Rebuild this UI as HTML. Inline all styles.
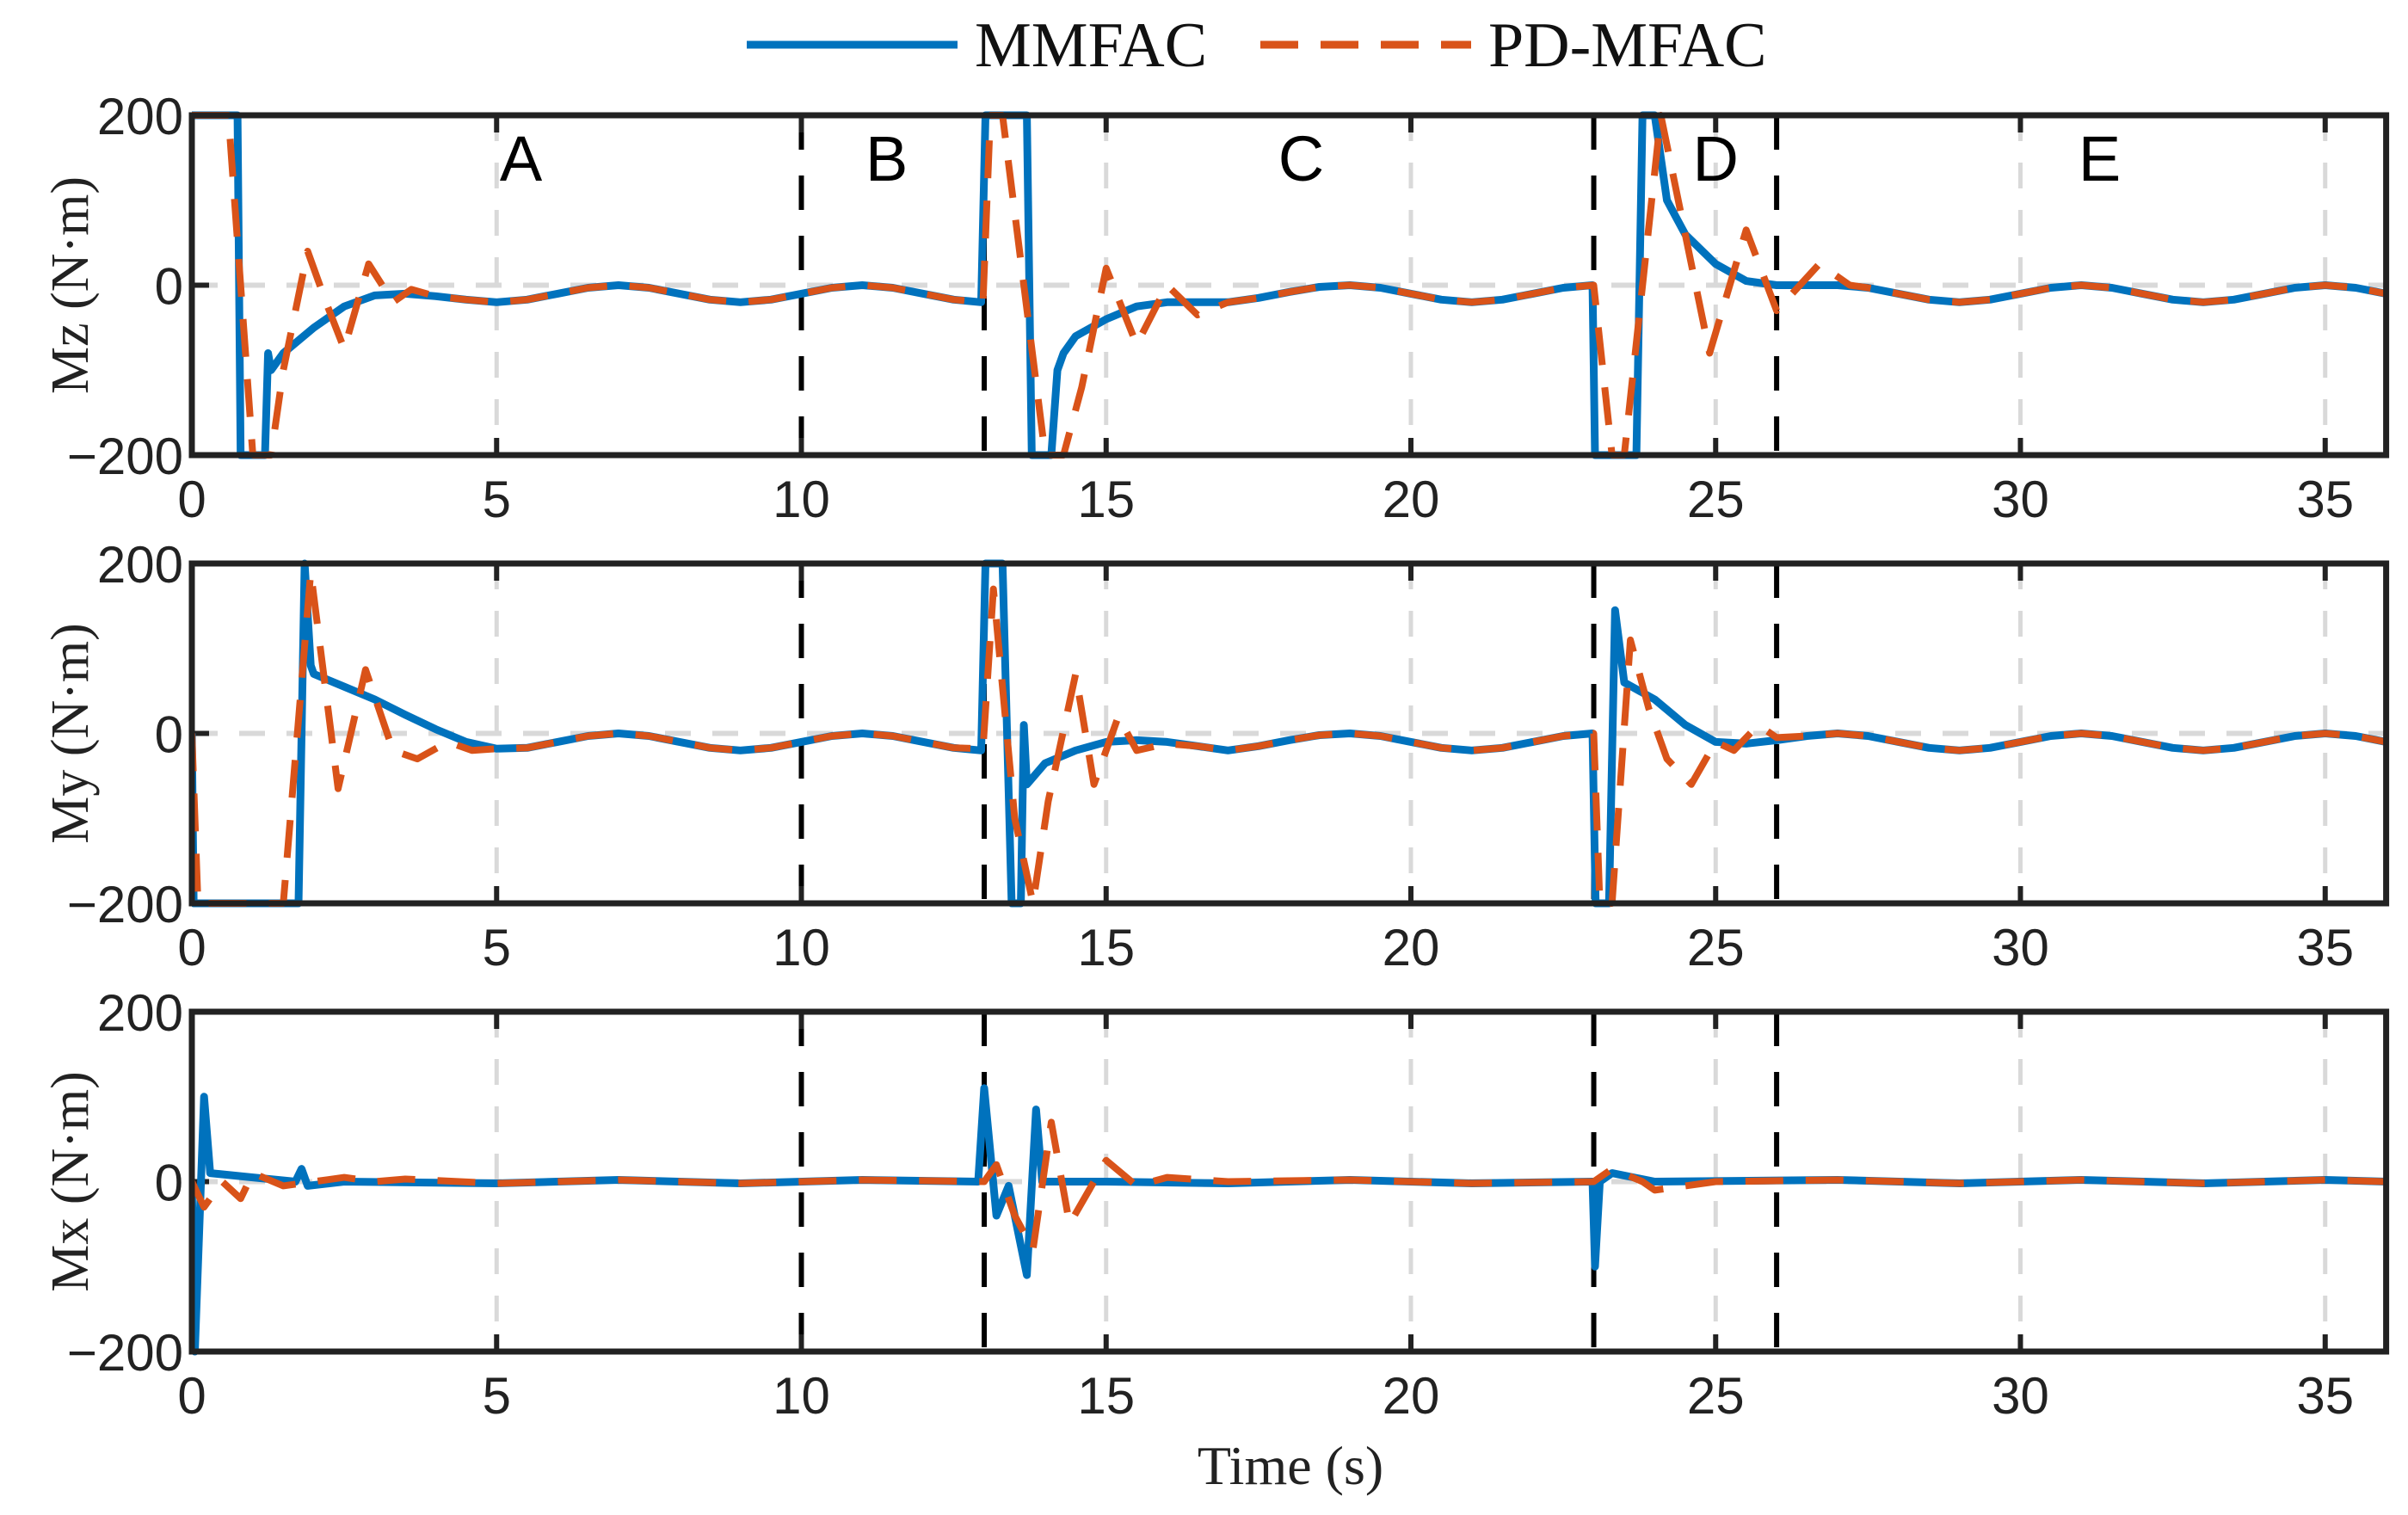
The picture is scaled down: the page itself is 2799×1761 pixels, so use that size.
<!DOCTYPE html>
<html><head><meta charset="utf-8"><style>
html,body{margin:0;padding:0;background:#fff;}
svg{display:block;}
</style></head><body>
<svg id="chart" width="2799" height="1761" xmlns="http://www.w3.org/2000/svg"></svg>
<script>
// ---- data ----
const xTicks = [0,5,10,15,20,25,30,35];
const yTicks = [-200,0,200];
const phaseLines = [10,13,23,26];
const phaseLabels = ['A','B','C','D','E'];
const phaseLabelT = [5.4,11.4,18.2,25.0,31.3];
const panelNames = ['Mz','My','Mx'];

const mzT1 = [0,0.75,0.8,1.2,1.25,1.3,1.5,2,2.5,3,3.5,4,4.5,5,5.5,6,6.5,7,7.5,8,8.5,9,9.5,10,10.5,11,11.5,12,12.5,12.95,13.02,13.7,13.78,14.1,14.2,14.3,14.5,15,15.5,16,16.5,17,17.5,18,18.5,19,19.5,20,20.5,21,21.5,22,22.5,22.98,23.02,23.7,23.8,24.0,24.2,24.5,25,25.5,26,26.5,27,27.5,28,28.5,29,29.5,30,30.5,31,31.5,32,32.5,33,33.5,34,34.5,35,35.5,36];
const mzV1 = [200,200,-200,-200,-80,-100,-80,-50,-25,-12,-10,-13,-17,-20,-17,-10,-3,0,-3,-10,-17,-20,-17,-10,-3,0,-3,-10,-17,-20,200,200,-200,-200,-100,-80,-60,-40,-25,-20,-20,-20,-15,-8,-2,0,-3,-10,-17,-20,-17,-10,-3,0,-200,-200,200,200,100,60,25,5,0,0,0,-3,-10,-17,-20,-17,-10,-3,0,-3,-10,-17,-20,-17,-10,-3,0,-3,-10];
const mzT2 = [0,0.6,1.0,1.3,1.5,1.9,2.2,2.5,2.9,3.3,3.6,4,4.5,5,5.5,6,6.5,7,7.5,8,8.5,9,9.5,10,10.5,11,11.5,12,12.5,12.98,13.1,13.3,14.0,14.3,14.6,15.0,15.5,16.0,16.5,17,17.5,18,18.5,19,19.5,20,20.5,21,21.5,22,22.5,23,23.3,23.5,24.1,24.9,25.5,26,26.7,27.2,27.5,28,28.5,29,29.5,30,30.5,31,31.5,32,32.5,33,33.5,34,34.5,35,35.5,36];
const mzV2 = [200,200,-200,-200,-100,40,-20,-75,25,-20,-5,-13,-17,-20,-17,-10,-3,0,-3,-10,-17,-20,-17,-10,-3,0,-3,-10,-17,-20,200,200,-200,-200,-120,20,-70,0,-35,-20,-15,-8,-2,0,-3,-10,-17,-20,-17,-10,-3,0,-200,-200,200,-80,65,-30,25,0,-3,-10,-17,-20,-17,-10,-3,0,-3,-10,-17,-20,-17,-10,-3,0,-3,-10];

const myT1 = [0,0.03,1.75,1.85,1.95,2.0,2.5,3,3.5,4,4.5,5,5.5,6,6.5,7,7.5,8,8.5,9,9.5,10,10.5,11,11.5,12,12.5,12.95,13.02,13.3,13.45,13.6,13.65,13.7,14,14.5,15,15.5,16,16.5,17,17.5,18,18.5,19,19.5,20,20.5,21,21.5,22,22.5,22.98,23.03,23.25,23.35,23.5,24,24.5,25,25.5,26,26.5,27,27.5,28,28.5,29,29.5,30,30.5,31,31.5,32,32.5,33,33.5,34,34.5,35,35.5,36];
const myV1 = [0,-200,-200,200,80,70,55,40,22,5,-10,-18,-17,-10,-3,0,-3,-10,-17,-20,-17,-10,-3,0,-3,-10,-17,-20,200,200,-200,-200,10,-60,-35,-20,-10,-8,-10,-15,-20,-15,-8,-2,0,-3,-10,-17,-20,-17,-10,-3,0,-200,-200,145,60,40,10,-10,-12,-8,-3,0,-3,-10,-17,-20,-17,-10,-3,0,-3,-10,-17,-20,-17,-10,-3,0,-3,-10];
const myT2 = [0,0.1,1.5,1.95,2.4,2.85,3.3,3.7,4.2,4.6,5,5.5,6,6.5,7,7.5,8,8.5,9,9.5,10,10.5,11,11.5,12,12.5,12.98,13.15,13.5,13.8,14.05,14.5,14.8,15.2,15.5,16,16.5,17,17.5,18,18.5,19,19.5,20,20.5,21,21.5,22,22.5,23,23.1,23.3,23.6,23.9,24.2,24.6,25.0,25.3,25.7,26,26.5,27,27.5,28,28.5,29,29.5,30,30.5,31,31.5,32,32.5,33,33.5,34,34.5,35,35.5,36];
const myV2 = [0,-200,-200,190,-65,75,-20,-30,-10,-20,-18,-17,-10,-3,0,-3,-10,-17,-20,-17,-10,-3,0,-3,-10,-17,-18,170,-100,-200,-80,70,-60,20,-20,-12,-15,-20,-15,-8,-2,0,-3,-10,-17,-20,-17,-10,-3,0,-200,-200,110,30,-30,-60,-10,-20,10,-5,-3,0,-3,-10,-17,-20,-17,-10,-3,0,-3,-10,-17,-20,-17,-10,-3,0,-3,-10];

const mxT1 = [0,0.05,0.2,0.3,1,1.7,1.8,1.9,2.5,5,7,9,11,12.9,13.0,13.2,13.4,13.7,13.85,13.95,15,17,19,21,22.98,23.02,23.1,23.3,24,27,29,31,33,35,36];
const mxV1 = [0,-200,100,10,5,0,15,-5,0,-2,2,-2,2,0,110,-40,-5,-110,85,0,0,-2,2,-2,0,-100,0,10,0,2,-2,2,-2,2,0];
const mxT2 = [0,0.2,0.5,0.8,1,1.5,2,2.5,3,3.5,5,7,9,11,13,13.2,13.5,13.8,14.1,14.4,15,15.5,16,17,19,21,23,23.3,23.8,24,25,27,29,31,33,35,36];
const mxV2 = [0,-30,0,-20,10,-5,0,5,0,3,-2,2,-2,2,0,20,-40,-80,70,-50,25,-5,5,0,2,-2,0,15,0,-10,0,2,-2,2,-2,2,0];

const seriesT = [[mzT1,mzT2],[myT1,myT2],[mxT1,mxT2]];
const seriesV = [[mzV1,mzV2],[myV1,myV2],[mxV1,mxV2]];

// ---- layout ----
const NS='http://www.w3.org/2000/svg';
const svg=document.getElementById('chart');
const X0=223, PXS=70.85, XMAX=36;
const panelTop=[134,655,1176], PH=395;
function xs(t){return X0+t*PXS;}
function mk(tag,attrs,parent){const e=document.createElementNS(NS,tag);for(const k in attrs)e.setAttribute(k,attrs[k]);(parent||svg).appendChild(e);return e;}
const XR=xs(XMAX);

for(let p=0;p<3;p++){
  const top=panelTop[p];
  const ys=v=>top+PH/2-v*(PH/400);
  const g=mk('g',{});
  
  
  const clip=mk('clipPath',{id:'c'+p},g);
  mk('rect',{x:X0,y:top-6,width:XR-X0,height:PH+12},clip);
  xTicks.forEach(t=>{ if(t===0||phaseLines.includes(t))return;
    const l=mk('line',{x1:xs(t),x2:xs(t),y1:top,y2:top+PH,stroke:'#d9d9d9','stroke-width':5,'stroke-dasharray':'30 25'},g);
    
    
  });
  const hg=mk('line',{x1:X0,x2:XR,y1:ys(0),y2:ys(0),stroke:'#d9d9d9','stroke-width':6,'stroke-dasharray':'30 25'},g);
  
  
  phaseLines.forEach(t=>{
    const l=mk('line',{x1:xs(t),x2:xs(t),y1:top,y2:top+PH,stroke:'#000','stroke-width':6,'stroke-dasharray':'40 30'},g);
    
    
  });
  xTicks.forEach(t=>{
    mk('line',{x1:xs(t),x2:xs(t),y1:top,y2:top+20,stroke:'#222','stroke-width':6},g);
    mk('line',{x1:xs(t),x2:xs(t),y1:top+PH,y2:top+PH-20,stroke:'#222','stroke-width':6},g);
    const tx=mk('text',{x:xs(t),y:top+PH+72,'text-anchor':'middle','font-family':'Liberation Sans, sans-serif','font-size':60,fill:'#222'},g);
    tx.textContent=t;
    
    
  });
  yTicks.forEach(v=>{
    mk('line',{x1:X0,x2:X0+20,y1:ys(v),y2:ys(v),stroke:'#222','stroke-width':6},g);
    const tx=mk('text',{x:X0-10,y:ys(v)+22,'text-anchor':'end','font-family':'Liberation Sans, sans-serif','font-size':60,fill:'#222'},g);
    tx.textContent=(v<0?'\u2212':'')+Math.abs(v);
    
    
  });
  const colors=['#0072BD','#D95319'];
  [0,1].forEach(s=>{
    const T=seriesT[p][s], V=seriesV[p][s];
    const pts=T.map((t,i)=>xs(t).toFixed(1)+','+ys(V[i]).toFixed(1)).join(' ');
    const pl=mk('polyline',{points:pts,fill:'none',stroke:colors[s],'stroke-width':s?8:9,'stroke-linejoin':'round','clip-path':'url(#c'+p+')'},g);
    if(s) pl.setAttribute('stroke-dasharray','44 26');
    
    
  });
  const fr=mk('rect',{x:X0,y:top,width:XR-X0,height:PH,fill:'none',stroke:'#222','stroke-width':7},g);
  
  
  const yl=mk('text',{x:0,y:0,transform:'translate('+102+','+(top+PH/2)+') rotate(-90)','text-anchor':'middle','font-family':'Liberation Serif, serif','font-size':62,fill:'#222'},g);
  yl.textContent=panelNames[p]+' (N\u00b7m)';
  
  
  if(p===0){
    phaseLabels.forEach((L,i)=>{
      const tx=mk('text',{x:xs(phaseLabelT[i]),y:210,'text-anchor':'middle','font-family':'Liberation Sans, sans-serif','font-size':74,fill:'#000'},g);
      tx.textContent=L;
      
      
    });
  }
}
const xt=mk('text',{x:1500,y:1725,'text-anchor':'middle','font-family':'Liberation Serif, serif','font-size':64,fill:'#222'});
xt.textContent='Time (s)';


const lg=mk('g',{});


const l1=mk('line',{x1:868,x2:1113,y1:52,y2:52,stroke:'#0072BD','stroke-width':9},lg);


const t1=mk('text',{x:1133,y:77,'font-family':'Liberation Serif, serif','font-size':74,fill:'#111'},lg);
t1.textContent='MMFAC';


const l2=mk('line',{x1:1465,x2:1710,y1:52,y2:52,stroke:'#D95319','stroke-width':9,'stroke-dasharray':'44 26'},lg);


const t2=mk('text',{x:1730,y:77,'font-family':'Liberation Serif, serif','font-size':74,fill:'#111'},lg);
t2.textContent='PD-MFAC';


</script>
</body></html>
